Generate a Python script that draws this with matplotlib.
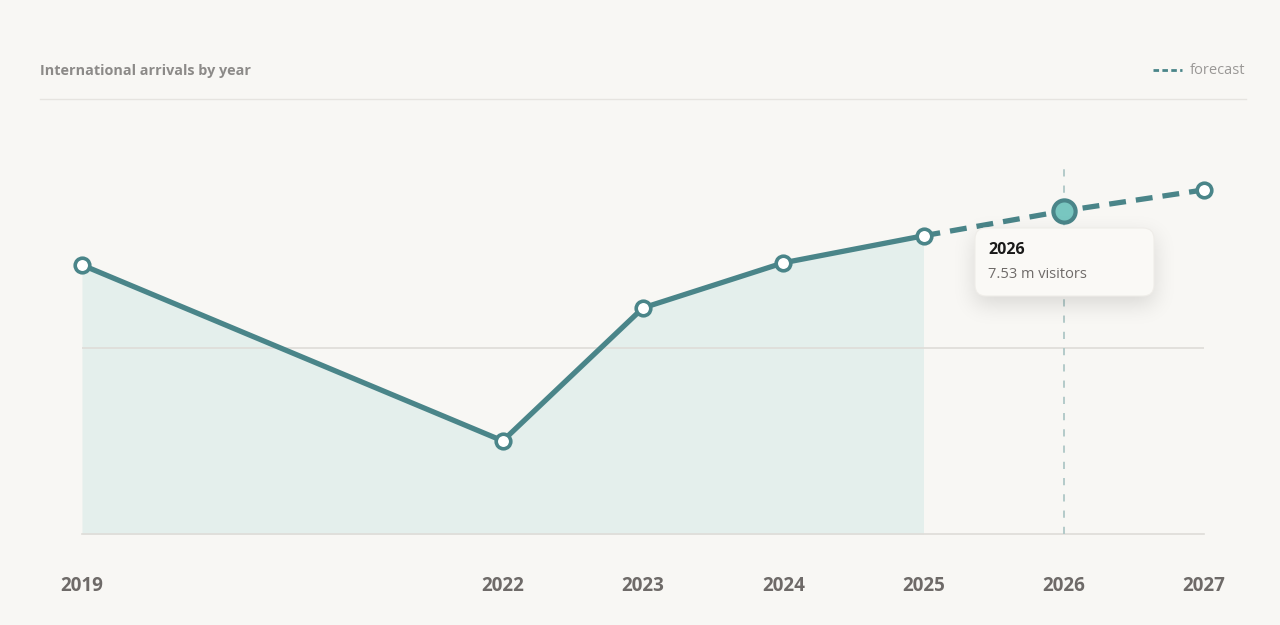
import numpy as np
import matplotlib.pyplot as plt
from matplotlib.patches import FancyBboxPatch

years = [2019, 2022, 2023, 2024, 2025, 2026, 2027]
arrivals = [6.27, 2.17, 5.27, 6.32, 6.95, 7.53, 8.02]
last_actual = 2025
highlight_year = 2026
y_max = 8.67

W, H = 1280, 625
bg = '#f8f7f4'
teal = '#4a8589'
fill_color = '#e4efec'
grid_color = '#dedcd8'
label_color = '#6e6a68'

fig = plt.figure(figsize=(W / 100, H / 100), dpi=100)
fig.patch.set_facecolor(bg)

# overlay in pixel coordinates for header and tooltip
ov = fig.add_axes([0, 0, 1, 1])
ov.set_xlim(0, W)
ov.set_ylim(H, 0)
ov.axis('off')
ov.set_zorder(3)

ax = fig.add_axes([82 / W, 1 - 534 / H, (1204 - 82) / W, (534 - 162) / H])
ax.set_facecolor('none')
ax.set_xlim(years[0], years[-1])
ax.set_ylim(0, y_max)
ax.axis('off')
ax.set_zorder(2)

n_act = years.index(last_actual) + 1
act_x, act_y = years[:n_act], arrivals[:n_act]
fc_x, fc_y = years[n_act - 1:], arrivals[n_act - 1:]

ax.fill_between(act_x, act_y, 0, color=fill_color, lw=0, zorder=1)
ax.axhline(0, color=grid_color, lw=1.2, zorder=2, clip_on=False)
ax.axhline(y_max / 2, color=grid_color, lw=1.2, zorder=2)
ax.axvline(highlight_year, color='#aec7c6', lw=1.3, dashes=(4, 5), zorder=2)

ax.plot(act_x, act_y, color=teal, lw=3.8, solid_joinstyle='round', zorder=3)
ax.plot(fc_x, fc_y, color=teal, lw=3.8, dashes=(3.2, 1.9), zorder=3)

for x, y in zip(years, arrivals):
    if x == highlight_year:
        ax.plot(x, y, 'o', ms=16, mfc='#78c6c0', mec=teal, mew=3, zorder=5, clip_on=False)
    else:
        ax.plot(x, y, 'o', ms=10.5, mfc='white', mec=teal, mew=2.6, zorder=5, clip_on=False)

for x in years:
    ax.text(x, -1.22, str(x), ha='center', va='center', fontsize=13.5,
            fontweight='bold', color=label_color, family='Open Sans')

# header
ov.text(40, 71, 'International arrivals by year', ha='left', va='center',
        fontsize=10.4, fontweight='bold', color='#8c8a88', family='Open Sans')
ov.plot([40, 1246], [99, 99], color='#e6e4e0', lw=1)
ov.plot([1153, 1182], [70, 70], color=teal, lw=2, dashes=(2, 1.2))
ov.text(1190, 71, 'forecast', ha='left', va='center', fontsize=10.5,
        color='#9a9896', family='Open Sans')

# tooltip with soft shadow
bx, by, bw, bh = 975, 228, 179, 68
pad = 40
sx0, sy0 = bx - pad, by - pad + 8
gw, gh = bw + 2 * pad, bh + 2 * pad
yy, xx = np.mgrid[0:gh, 0:gw]
mask = ((xx >= pad) & (xx < pad + bw) & (yy >= pad) & (yy < pad + bh)).astype(float)
sigma = 11
k = np.arange(-3 * sigma, 3 * sigma + 1)
kern = np.exp(-k ** 2 / (2 * sigma ** 2))
kern /= kern.sum()
blur = np.apply_along_axis(lambda r: np.convolve(r, kern, mode='same'), 1, mask)
blur = np.apply_along_axis(lambda c: np.convolve(c, kern, mode='same'), 0, blur)
rgba = np.zeros((gh, gw, 4))
rgba[..., 3] = blur * 0.13
ov.imshow(rgba, extent=(sx0, sx0 + gw, sy0 + gh, sy0), zorder=1, interpolation='bilinear')
ov.set_xlim(0, W)
ov.set_ylim(H, 0)

box = FancyBboxPatch((bx, by), bw, bh, boxstyle='round,pad=0,rounding_size=11',
                     fc='#faf9f6', ec='#efede9', lw=0.8, zorder=2)
ov.add_patch(box)
hi = years.index(highlight_year)
ov.text(988, 250, str(highlight_year), ha='left', va='center', fontsize=11.5,
        fontweight='bold', color='#1a1a1a', family='Open Sans', zorder=3)
ov.text(988, 274, f'{arrivals[hi]:.2f} m visitors', ha='left', va='center',
        fontsize=10.5, color='#6e6a68', family='Open Sans', zorder=3)

fig.savefig('out.png', dpi=100, facecolor=bg)
